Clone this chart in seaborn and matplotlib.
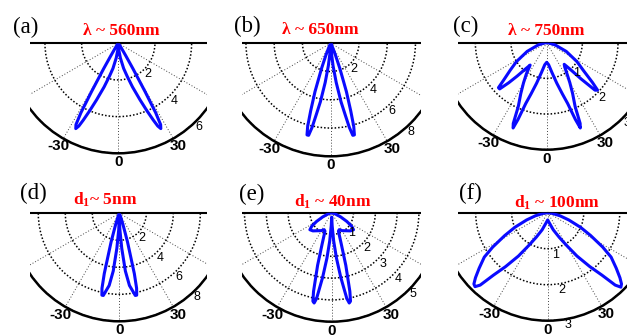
import numpy as np
import pandas as pd
import matplotlib
matplotlib.use("Agg")
import matplotlib.pyplot as plt
import seaborn as sns
from matplotlib.patches import Rectangle

# ---------------- data ----------------
panel_labels = ["(a)", "(b)", "(c)", "(d)", "(e)", "(f)"]
titles = [r"λ ~ 560nm", r"λ ~ 650nm", r"λ ~ 750nm",
          r"d$_{\mathbf{1}}$~ 5nm", r"d$_{\mathbf{1}}$ ~ 40nm", r"d$_{\mathbf{1}}$ ~ 100nm"]
r_max = [6, 8, 3, 8, 5, 3]
r_ticks = [[2, 4, 6], [2, 4, 6, 8], [1, 2, 3], [2, 4, 6, 8], [1, 2, 3, 4, 5], [1, 2, 3]]
angle_ticks = [-90, -60, -30, 0, 30, 60, 90]
angle_labels = ["", "", "-30", "0", "30", "", ""]

# angle grids (deg, one side) and radii for the right (+) and left (-) side
theta_a = [0, 4, 8, 12, 15, 18, 21, 23, 24.5, 25.5, 26.5, 27.5, 28.3, 29, 30, 31, 33, 36, 45, 90]
r_a_right = [0, 0.35, 0.8, 1.4, 1.85, 2.5, 3.3, 4.0, 4.6, 5.0, 5.2, 5.0, 4.3, 3.0, 1.6, 0.8, 0.3, 0.1, 0, 0]
r_a_left = [0, 0.35, 0.8, 1.4, 1.85, 2.5, 3.3, 4.0, 4.6, 5.0, 5.2, 5.0, 4.3, 3.0, 1.6, 0.8, 0.3, 0.1, 0, 0]

theta_b = [0, 3, 6, 8, 10, 11.5, 12.5, 13.5, 14.5, 15.5, 16.5, 18, 20, 22, 25, 30, 90]
r_b_right = [0, 0.5, 1.6, 2.8, 4.2, 5.2, 6.1, 6.7, 6.7, 6.1, 5.0, 3.6, 1.9, 0.9, 0.3, 0.05, 0]
r_b_left = [0, 0.5, 1.6, 2.8, 4.2, 5.2, 6.1, 6.7, 6.7, 6.1, 5.0, 3.6, 1.9, 0.9, 0.3, 0.05, 0]

theta_c = [0, 5, 10, 14, 17, 19, 20.5, 21.5, 22.5, 24, 27, 30, 33, 36.5, 39, 41.5,
           43.5, 45.5, 47, 49, 53, 58, 66, 75, 85, 90]
r_c_right = [0.55, 0.62, 0.85, 1.17, 1.5, 1.8, 2.3, 2.57, 2.45, 1.96, 1.6, 1.3, 1.05, 0.85, 0.78, 1.0,
             1.4, 1.9, 1.95, 1.7, 1.28, 1.0, 0.6, 0.25, 0.05, 0]
r_c_left = [0.55, 0.62, 0.85, 1.17, 1.5, 1.8, 2.3, 2.57, 2.45, 1.96, 1.6, 1.3, 1.05, 0.78, 0.95, 1.25,
            1.55, 1.85, 1.85, 1.6, 1.28, 1.0, 0.6, 0.25, 0.05, 0]

theta_d = [0, 2, 4, 6, 8, 10, 11, 12, 13, 14, 16, 18, 21, 25, 90]
r_d_right = [0.3, 1.2, 2.6, 4.3, 5.4, 5.9, 6.2, 6.2, 5.7, 4.6, 2.2, 0.9, 0.3, 0.05, 0]
r_d_left = [0.3, 1.2, 2.6, 4.3, 5.4, 5.9, 6.2, 6.2, 5.7, 4.6, 2.2, 0.9, 0.3, 0.05, 0]

theta_e = [0, 2, 4, 6, 8, 10, 11, 12, 13, 15, 17, 20, 24, 30, 38, 46, 52, 56, 60, 65, 72, 80, 90]
r_e_right = [0.2, 0.6, 1.3, 2.1, 3.0, 4.0, 4.22, 4.15, 3.7, 2.5, 1.5, 0.9, 0.85, 0.95, 1.05, 1.2, 1.27,
             1.1, 0.8, 0.45, 0.15, 0, 0]
r_e_left = [0.2, 0.6, 1.3, 2.1, 3.0, 4.0, 4.22, 4.15, 3.7, 2.5, 1.5, 0.9, 0.85, 0.95, 1.05, 1.2, 1.27,
            1.1, 0.8, 0.45, 0.15, 0, 0]

theta_f = [0, 10, 18, 25, 30, 34, 38, 41, 43, 44.5, 46, 48, 51, 55, 58, 62, 66, 71, 76, 82, 90]
r_f_right = [0.2, 0.3, 0.5, 0.75, 1.05, 1.45, 1.9, 2.3, 2.75, 2.9, 2.85, 2.7, 2.45, 2.15, 1.8, 1.35,
             1.0, 0.62, 0.35, 0.12, 0]
r_f_left = [0.2, 0.3, 0.5, 0.75, 1.05, 1.45, 1.9, 2.3, 2.75, 2.88, 2.85, 2.7, 2.45, 2.15, 1.8, 1.35,
            1.0, 0.62, 0.35, 0.12, 0]

lobes = [(theta_a, r_a_left, r_a_right), (theta_b, r_b_left, r_b_right),
         (theta_c, r_c_left, r_c_right), (theta_d, r_d_left, r_d_right),
         (theta_e, r_e_left, r_e_right), (theta_f, r_f_left, r_f_right)]

# ---------------- layout (pixels, top-left origin) ----------------
W, H = 627, 336
centers = [(118.3, 43.3, 110), (330.7, 43.3, 113), (546.7, 42.7, 107),
           (119.3, 213.3, 108), (331.7, 212.7, 109), (547.7, 212.7, 108)]
rlabel_angle = [44, 42, 45, 43, 45, 10]
title_pos = [(121.7, 35), (320, 34.5), (546, 35), (105.5, 204.5), (333, 207), (557, 207.5)]
label_pos = [(26, 27.5), (247, 26.5), (466, 26.5), (33, 193.5), (251.5, 194), (470, 193.5)]

BLUE = "#0a0aff"

sns.set_theme(style="white")
plt.rcParams["font.family"] = ["Liberation Sans", "DejaVu Sans"]
plt.rcParams["mathtext.fontset"] = "custom"
plt.rcParams["mathtext.rm"] = "Liberation Serif"
plt.rcParams["mathtext.bf"] = "Liberation Serif:bold"
plt.rcParams["mathtext.it"] = "Liberation Serif:italic"

fig = plt.figure(figsize=(W / 100, H / 100), dpi=100)
fig.patch.set_facecolor("white")

for k in range(6):
    cx, cy, R = centers[k]
    rm = r_max[k]
    # square box: matplotlib centres the half-disc wedge vertically inside it
    ax = fig.add_axes([(cx - R) / W, (H - cy - 1.5 * R) / H, 2 * R / W, 2 * R / H],
                      projection="polar")
    ax.set_facecolor("white")

    th, rl, rr = lobes[k]
    theta_full = [-t for t in th[::-1]] + list(th)
    r_full = list(rl[::-1]) + list(rr)
    df = pd.DataFrame({"theta": np.deg2rad(theta_full), "r": r_full})
    sns.lineplot(data=df, x="theta", y="r", sort=False, estimator=None,
                 color=BLUE, linewidth=2.2, ax=ax, zorder=3)

    ax.set_theta_zero_location("S")
    ax.set_theta_direction(1)
    ax.set_thetamin(-90)
    ax.set_thetamax(90)
    ax.set_rlim(0, rm)
    ax.set_xlabel("")
    ax.set_ylabel("")

    ax.set_xticks(np.deg2rad(angle_ticks))
    ax.set_xticklabels([])
    ax.set_yticks(r_ticks[k])
    ax.set_yticklabels([])
    ax.tick_params(length=0)
    ax.xaxis.grid(True, color="#444444", linestyle=(0, (1, 2)), linewidth=0.7)
    ax.yaxis.grid(True, color="black", linestyle=(0, (1, 1.3)), linewidth=1.1)
    ax.spines["polar"].set_color("black")
    ax.spines["polar"].set_linewidth(1.8)
    for s in ("start", "end"):
        ax.spines[s].set_color("black")
        ax.spines[s].set_linewidth(1.5)

    # radial labels
    off = 6.5 / R * rm
    for t in r_ticks[k]:
        ax.text(np.deg2rad(rlabel_angle[k]), t + off, str(t), ha="center", va="center",
                fontsize=9, color="black")
    # angle labels
    for a, lab in zip(angle_ticks, angle_labels):
        if lab:
            ax.text(np.deg2rad(a), rm * (1 + 9 / R), lab, ha="center", va="center",
                    fontsize=11, fontweight="bold", color="black")

# white masks that crop each polar panel to its window (as in the reference)
def mask(x0, y0, x1, y1):
    fig.add_artist(Rectangle((x0 / W, (H - y1) / H), (x1 - x0) / W, (y1 - y0) / H,
                             transform=fig.transFigure, facecolor="white",
                             edgecolor="none", zorder=5))

for (y0, y1) in [(39, 170), (209, 336)]:
    mask(0, y0, 30, y1)
    mask(207, y0, 242, y1)
    mask(421, y0, 458, y1)

for k in range(6):
    x, y = title_pos[k]
    fig.text(x / W, 1 - y / H, titles[k], ha="center", va="baseline", color="red",
             fontsize=12.5, fontweight="bold", family=["Liberation Serif", "DejaVu Serif"],
             zorder=10)
    x, y = label_pos[k]
    fig.text(x / W, 1 - y / H, panel_labels[k], ha="center", va="center", color="black",
             fontsize=16.5, family=["Liberation Serif", "DejaVu Serif"], zorder=10)

fig.savefig("out.png", dpi=100, facecolor="white")
